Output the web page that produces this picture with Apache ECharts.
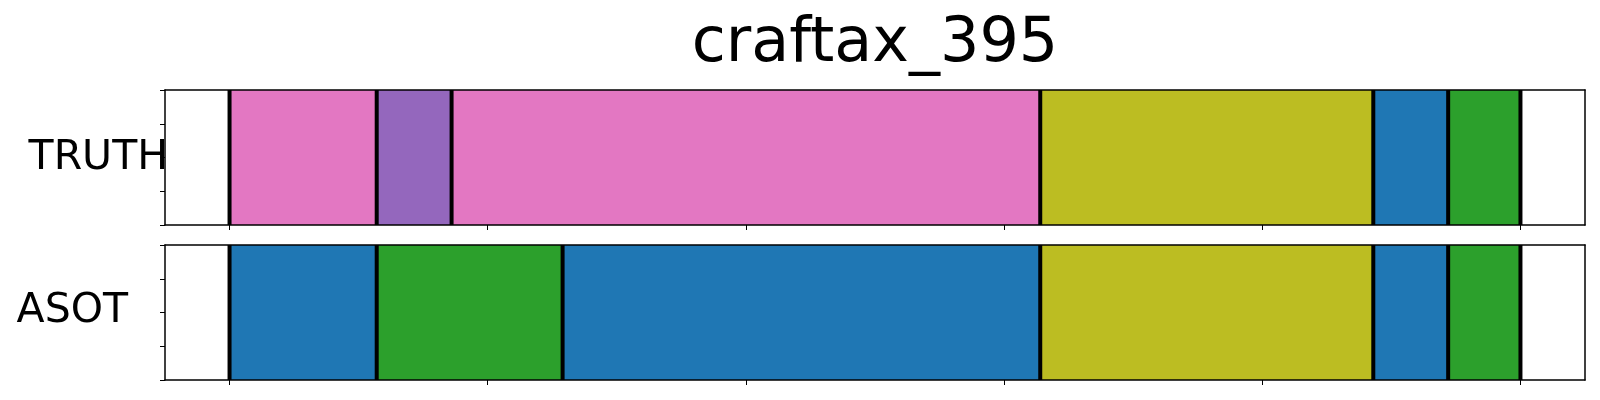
<!DOCTYPE html>
<html>
<head>
<meta charset="utf-8">
<script src="https://cdn.jsdelivr.net/npm/echarts@6/dist/echarts.min.js"></script>
<style>
html,body{margin:0;padding:0;background:#fff;}
#chart{width:1600px;height:400px;}
</style>
</head>
<body>
<div id="chart"></div>
<script>
// ---- data ----
var title = 'craftax_395';
var rowNames = ['TRUTH', 'ASOT'];
var truthStarts = [0, 57, 86, 314, 443, 472];
var truthEnds   = [57, 86, 314, 443, 472, 500];
var truthLabels = ['pink', 'purple', 'pink', 'olive', 'blue', 'green'];
var asotStarts  = [0, 57, 129, 314, 443, 472];
var asotEnds    = [57, 129, 314, 443, 472, 500];
var asotLabels  = ['blue', 'green', 'blue', 'olive', 'blue', 'green'];
var truthBounds = [0, 57, 86, 314, 443, 472, 500];
var asotBounds  = [0, 57, 129, 314, 443, 472, 500];
var xTicks = [0, 100, 200, 300, 400, 500];
var yTicks = [0, 0.25, 0.5, 0.75, 1];
var xMin = -25, xMax = 525;

var palette = {
  blue: '#1f77b4', green: '#2ca02c', purple: '#9467bd',
  pink: '#e377c2', olive: '#bcbd22'
};

function segData(starts, ends, labels) {
  return starts.map(function (s, i) { return [s, ends[i], labels[i]]; });
}

function renderSeg(params, api) {
  var p0 = api.coord([api.value(0), 1]);
  var p1 = api.coord([api.value(1), 0]);
  return {
    type: 'rect',
    shape: { x: p0[0], y: p0[1], width: p1[0] - p0[0], height: p1[1] - p0[1] },
    style: { fill: palette[api.value(2)], stroke: null }
  };
}
function renderLine(params, api) {
  var p0 = api.coord([api.value(0), 1]);
  var p1 = api.coord([api.value(0), 0]);
  return {
    type: 'line',
    shape: { x1: p0[0], y1: p0[1], x2: p1[0], y2: p1[1] },
    style: { stroke: '#000', lineWidth: 4 }
  };
}

var grids = [
  { left: 165, top: 90, width: 1420, height: 135 },
  { left: 165, top: 245, width: 1420, height: 135 }
];

var xAxes = [], yAxes = [];
[0, 1].forEach(function (g) {
  xAxes.push({
    type: 'value', gridIndex: g, min: xMin, max: xMax, position: 'bottom', z: 10,
    axisLine: { show: true, onZero: false, lineStyle: { color: '#000', width: 1.5 } },
    axisTick: { show: true, length: 5, inside: false, customValues: xTicks, lineStyle: { color: '#000', width: 1 } },
    axisLabel: { show: false }, splitLine: { show: false }
  });
  xAxes.push({
    type: 'value', gridIndex: g, min: xMin, max: xMax, position: 'top', z: 10,
    axisLine: { show: true, onZero: false, lineStyle: { color: '#000', width: 1.5 } },
    axisTick: { show: false }, axisLabel: { show: false }, splitLine: { show: false }
  });
  yAxes.push({
    type: 'value', gridIndex: g, min: 0, max: 1, interval: 0.25, position: 'left', z: 10,
    axisLine: { show: true, onZero: false, lineStyle: { color: '#000', width: 1.5 } },
    axisTick: { show: true, length: 5, customValues: yTicks, lineStyle: { color: '#000', width: 1 } },
    axisLabel: { show: false }, splitLine: { show: false }
  });
  yAxes.push({
    type: 'value', gridIndex: g, min: 0, max: 1, position: 'right', z: 10,
    axisLine: { show: true, onZero: false, lineStyle: { color: '#000', width: 1.5 } },
    axisTick: { show: false }, axisLabel: { show: false }, splitLine: { show: false }
  });
});

var chart = echarts.init(document.getElementById('chart'), null, { renderer: 'canvas' });
chart.setOption({
  animation: false,
  backgroundColor: '#fff',
  grid: grids,
  xAxis: xAxes,
  yAxis: yAxes,
  graphic: [
    { type: 'text', style: { text: title, x: 875, y: 45, textAlign: 'center', textVerticalAlign: 'middle',
               font: '62px "DejaVu Sans"', fill: '#000' } },
    { type: 'text', style: { text: rowNames[0], x: 168, y: 158, textAlign: 'right', textVerticalAlign: 'middle',
               font: '41px "DejaVu Sans"', fill: '#000' } },
    { type: 'text', style: { text: rowNames[1], x: 128, y: 311, textAlign: 'right', textVerticalAlign: 'middle',
               font: '41px "DejaVu Sans"', fill: '#000' } }
  ],
  series: [
    { type: 'custom', xAxisIndex: 0, yAxisIndex: 0, renderItem: renderSeg, data: segData(truthStarts, truthEnds, truthLabels), z: 2 },
    { type: 'custom', xAxisIndex: 0, yAxisIndex: 0, renderItem: renderLine, data: truthBounds.map(function (b) { return [b]; }), z: 3 },
    { type: 'custom', xAxisIndex: 2, yAxisIndex: 2, renderItem: renderSeg, data: segData(asotStarts, asotEnds, asotLabels), z: 2 },
    { type: 'custom', xAxisIndex: 2, yAxisIndex: 2, renderItem: renderLine, data: asotBounds.map(function (b) { return [b]; }), z: 3 }
  ]
});
</script>
</body>
</html>
